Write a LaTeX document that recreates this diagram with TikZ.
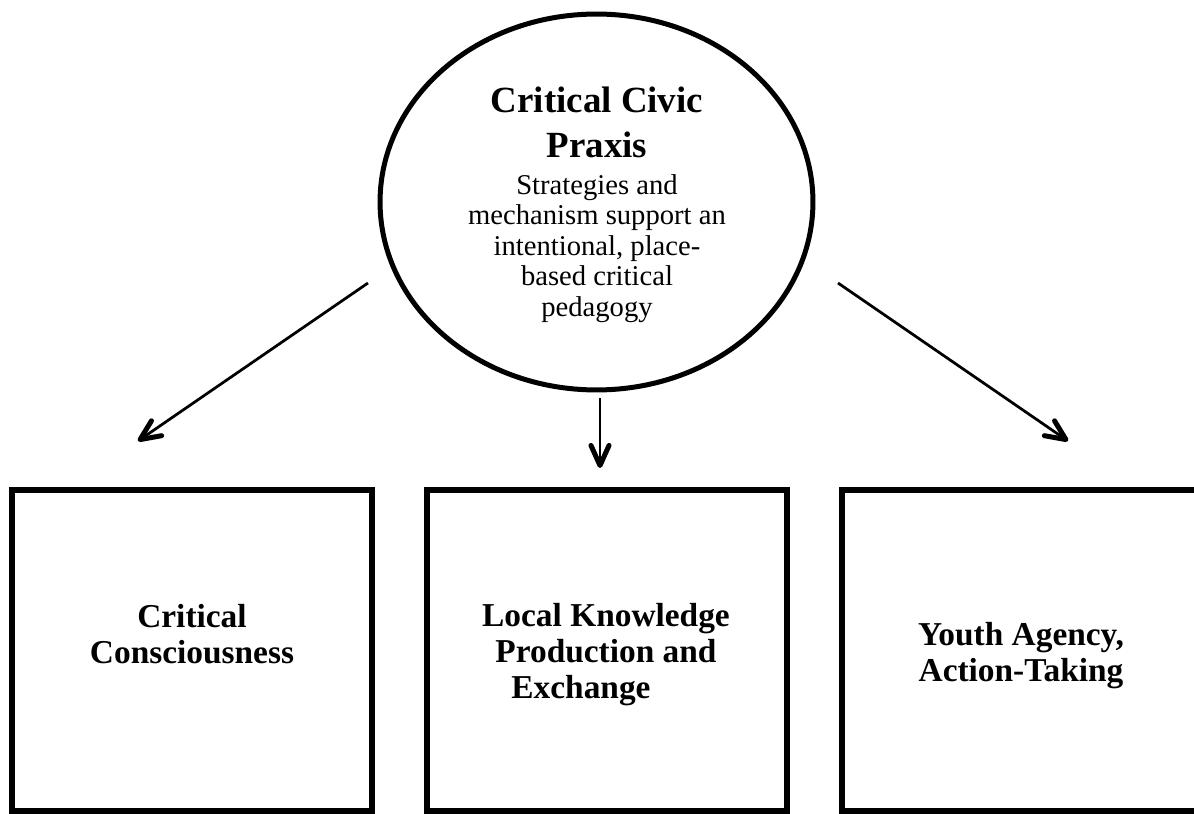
\documentclass[tikz,border=0pt]{standalone}
\usepackage{fontspec}
\setmainfont{Liberation Serif}
\usepackage{tikz}
\usetikzlibrary{positioning, arrows.meta, shapes.geometric}
\tikzset{
  bubble/.style={draw, ellipse, line width=0.1cm, minimum width=8.66cm,
    minimum height=7.52cm, inner sep=0pt},
  outbox/.style={draw, rectangle, line width=0.11cm, minimum width=7.2cm,
    minimum height=6.42cm, inner sep=0pt},
  headlabel/.style={font=\fontsize{21}{25.5}\selectfont\bfseries, align=center,
    inner sep=0pt, anchor=north},
  bodylabel/.style={font=\fontsize{16.3}{17.4}\selectfont, align=center,
    inner sep=0pt, anchor=north},
  boxlabel/.style={font=\fontsize{19}{20.5}\selectfont\bfseries, align=center,
    inner sep=0pt, anchor=north},
}
\tikzset{flowarrow/.style={line width=0.055cm,
  -{Straight Barb[round, length=0.4cm, width=0.36cm, line width=0.1cm]}}}

\begin{document}
\begin{tikzpicture}[x=0.02cm, y=-0.02cm]
  \useasboundingbox (0,0) rectangle (1194,814);
  % praxis bubble
  \node[bubble] (praxis) at (596.5,202) {};
  \node[headlabel] (praxisHead) at (597,87) {Critical Civic\\Praxis};
  \node[bodylabel] (praxisBody) at (597,174) {Strategies and\\mechanism support an\\intentional, place-\\based critical\\pedagogy};
  % outcome boxes
  \node[outbox] (consc) at (192,650.5) {};
  \node[outbox] (knowl) at (607,650.5) {};
  \node[outbox] (agency) at (1022,650.5) {};
  \node[boxlabel] (conscText) at (192,604) {Critical\\Consciousness};
  \node[boxlabel] (knowlText) at (606,603) {Local Knowledge\\Production and\\Exchange\hspace*{1cm}};
  \node[boxlabel] (agencyText) at (1021,622) {Youth Agency,\\Action-Taking};
  % arrows
  \coordinate (leftFrom) at (368,283);
  \coordinate (leftTo) at (138,441);
  \coordinate (midFrom) at (600,398);
  \coordinate (midTo) at (600,468);
  \coordinate (rightFrom) at (838,283);
  \coordinate (rightTo) at (1068,441);
  \draw[flowarrow] (leftFrom) -- (leftTo);
  \draw[flowarrow] (midFrom) -- (midTo);
  \draw[flowarrow] (rightFrom) -- (rightTo);
\end{tikzpicture}
\end{document}
